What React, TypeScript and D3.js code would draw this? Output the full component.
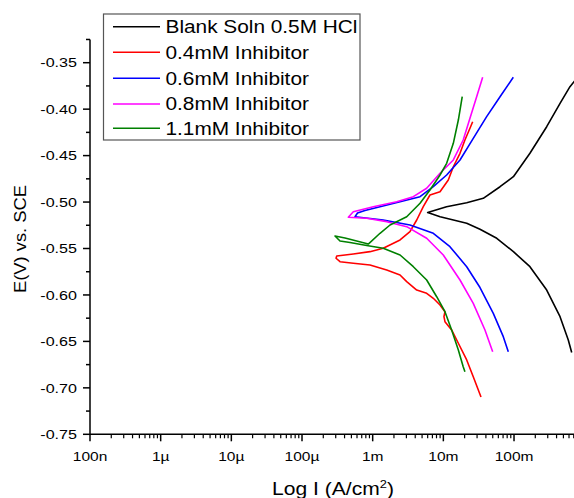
import React from "react";
import * as d3 from "d3";

// ---- data (current density A/cm², potential V vs SCE) ----
const seriesNames = [
  "Blank Soln 0.5M HCl",
  "0.4mM Inhibitor",
  "0.6mM Inhibitor",
  "0.8mM Inhibitor",
  "1.1mM Inhibitor",
];
const seriesColors = ["#000000", "#ff0000", "#0000ff", "#ff00ff", "#008000"];

const blankI = [0.655, 0.586, 0.448, 0.29, 0.168, 0.098, 0.057, 0.033, 0.0214, 0.009, 0.006, 0.0111, 0.0214, 0.0367, 0.0634, 0.098, 0.168, 0.29, 0.448, 0.619, 0.706, 0.79];
const blankE = [-0.662, -0.6485, -0.6234, -0.5947, -0.5696, -0.5534, -0.539, -0.5293, -0.5229, -0.5158, -0.5113, -0.505, -0.5007, -0.496, -0.4835, -0.4727, -0.4475, -0.4189, -0.3937, -0.3758, -0.3705, -0.366];

const inh04I = [0.0341, 0.0265, 0.0214, 0.0163, 0.0131, 0.01054, 0.0102, 0.01054, 0.00897, 0.00721, 0.00581, 0.0042, 0.00303, 0.00244, 0.00158, 0.000916, 0.000532, 0.000345, 0.000303, 0.00031, 0.000532, 0.000916, 0.00141, 0.00244, 0.00337, 0.0042, 0.0052, 0.00647, 0.00897, 0.01175, 0.01384, 0.0172, 0.0202, 0.0238, 0.026];
const inh04E = [-0.7099, -0.688, -0.67, -0.652, -0.6377, -0.6288, -0.6234, -0.618, -0.6108, -0.6036, -0.5982, -0.5947, -0.5857, -0.5785, -0.5731, -0.5678, -0.5659, -0.5642, -0.5605, -0.5581, -0.5559, -0.5534, -0.5498, -0.5408, -0.5319, -0.5193, -0.505, -0.4924, -0.4889, -0.4763, -0.462, -0.4475, -0.4332, -0.4206, -0.4135];

const inh06I = [0.083, 0.0705, 0.0509, 0.033, 0.0214, 0.0124, 0.00721, 0.00337, 0.00141, 0.000562, 0.00061, 0.000778, 0.00127, 0.00244, 0.00468, 0.00721, 0.01114, 0.0172, 0.0265, 0.041, 0.0634, 0.0977];
const inh06E = [-0.6611, -0.6449, -0.6198, -0.592, -0.5696, -0.548, -0.5336, -0.5247, -0.5193, -0.5158, -0.5118, -0.5091, -0.505, -0.4996, -0.4942, -0.4835, -0.4709, -0.4547, -0.4314, -0.4081, -0.3866, -0.3657];

const inh08I = [0.0499, 0.0388, 0.0265, 0.0172, 0.00998, 0.00581, 0.00303, 0.00158, 0.000822, 0.000452, 0.000532, 0.00102, 0.00219, 0.00376, 0.00581, 0.00897, 0.01384, 0.0191, 0.0238, 0.0296, 0.036];
const inh08E = [-0.6611, -0.6377, -0.609, -0.5839, -0.557, -0.539, -0.5265, -0.5211, -0.5175, -0.5164, -0.5104, -0.505, -0.4996, -0.4942, -0.4852, -0.469, -0.4547, -0.4332, -0.4098, -0.3866, -0.3657];

const inh11I = [0.0202, 0.0191, 0.0163, 0.0131, 0.01054, 0.00805, 0.00581, 0.00376, 0.00244, 0.00141, 0.000822, 0.000478, 0.000345, 0.000293, 0.000406, 0.000867, 0.00127, 0.00176, 0.00303, 0.00468, 0.00647, 0.00897, 0.01114, 0.01384, 0.0163, 0.0185];
const inh11E = [-0.6826, -0.6772, -0.6593, -0.6377, -0.618, -0.6019, -0.5839, -0.5696, -0.557, -0.5498, -0.5468, -0.5435, -0.5419, -0.5365, -0.5387, -0.5452, -0.5336, -0.5247, -0.5158, -0.5013, -0.487, -0.4709, -0.4583, -0.4368, -0.4117, -0.3866];

const xMajorTicks = [1e-7, 1e-6, 1e-5, 1e-4, 1e-3, 1e-2, 1e-1];
const xTickLabels = ["100n", "1µ", "10µ", "100µ", "1m", "10m", "100m"];
const yMajorTicks = [-0.35, -0.4, -0.45, -0.5, -0.55, -0.6, -0.65, -0.7, -0.75];

const W = 574;
const H = 498;
const FONT = "'Liberation Sans', Arial, sans-serif";

export default function App() {
  const x = d3.scaleLog().domain([1e-7, 1]).range([90, 90 + 7 * 70.67]);
  const y = d3.scaleLinear().domain([-0.75, -0.325]).range([434.3, 434.3 - 0.425 * 929]);
  const x0 = x.range()[0];
  const yBottom = y(-0.75);
  const yTop = y(-0.325);
  const xRight = x(1);

  const series = [
    { I: blankI, E: blankE },
    { I: inh04I, E: inh04E },
    { I: inh06I, E: inh06E },
    { I: inh08I, E: inh08E },
    { I: inh11I, E: inh11E },
  ];
  const line = d3
    .line<[number, number]>()
    .x((d) => x(d[0]))
    .y((d) => y(d[1]));

  const xMinor: number[] = [];
  for (let e = -7; e < 0; e++) {
    for (let k = 2; k <= 9; k++) xMinor.push(k * Math.pow(10, e));
  }
  const yMinor: number[] = [];
  for (let v = -0.725; v <= -0.32; v += 0.05) yMinor.push(v);

  const stretched = (tx: number, ty: number, content: React.ReactNode, size: number, anchor: string, sx: number) => (
    <text
      transform={`translate(${tx},${ty}) scale(${sx},1)`}
      fontSize={size}
      fontFamily={FONT}
      textAnchor={anchor}
      fill="#000"
    >
      {content}
    </text>
  );

  const legendRows = [26.7, 52.3, 78.3, 104, 128.3];

  return (
    <svg
      width={W}
      height={H}
      style={{ position: "absolute", left: 0, top: 0, background: "#fff" }}
    >
      <rect x={0} y={0} width={W} height={H} fill="#fff" />
      <defs>
        <clipPath id="plot">
          <rect x={x0} y={yTop - 5} width={W - x0} height={yBottom - yTop + 5} />
        </clipPath>
      </defs>

      {/* curves */}
      <g clipPath="url(#plot)">
        {series.map((s, i) => (
          <path
            key={i}
            d={line(s.I.map((v, j) => [v, s.E[j]] as [number, number])) || ""}
            fill="none"
            stroke={seriesColors[i]}
            strokeWidth={1.6}
            strokeLinejoin="round"
          />
        ))}
      </g>

      {/* y axis */}
      <line x1={x0} x2={x0} y1={yTop} y2={yBottom} stroke="#000" strokeWidth={1.5} />
      {yMajorTicks.map((v) => (
        <g key={v}>
          <line x1={x0 - 7} x2={x0} y1={y(v)} y2={y(v)} stroke="#000" strokeWidth={1.5} />
          {stretched(x0 - 13, y(v) + 4.7, v.toFixed(2), 13, "end", 1.24)}
        </g>
      ))}
      {yMinor.map((v) => (
        <line key={v} x1={x0 - 4} x2={x0} y1={y(v)} y2={y(v)} stroke="#000" strokeWidth={1.5} />
      ))}

      {/* x axis */}
      <line x1={x0} x2={xRight} y1={yBottom} y2={yBottom} stroke="#000" strokeWidth={1.5} />
      {xMajorTicks.map((v, i) => (
        <g key={v}>
          <line x1={x(v)} x2={x(v)} y1={yBottom} y2={yBottom + 7} stroke="#000" strokeWidth={1.5} />
          {stretched(x(v), 461, xTickLabels[i], 13.5, "middle", 1.15)}
        </g>
      ))}
      {xMinor.map((v) => (
        <line key={v} x1={x(v)} x2={x(v)} y1={yBottom} y2={yBottom + 4} stroke="#000" strokeWidth={1.2} />
      ))}

      {/* axis titles */}
      {stretched(
        333,
        495,
        <>
          Log I (A/cm
          <tspan fontSize={11} dy={-7}>2</tspan>
          <tspan dy={7}>)</tspan>
        </>,
        18,
        "middle",
        1.17
      )}
      <text
        transform={`translate(26,239) rotate(-90) scale(1.08,1)`}
        fontSize={17}
        fontFamily={FONT}
        textAnchor="middle"
        fill="#000"
      >
        E(V) vs. SCE
      </text>

      {/* legend */}
      <rect x={103.5} y={14} width={256.5} height={126} fill="#fff" stroke="#555" strokeWidth={1.2} />
      {seriesNames.map((n, i) => (
        <g key={n}>
          <line x1={113} x2={160} y1={legendRows[i]} y2={legendRows[i]} stroke={seriesColors[i]} strokeWidth={1.6} />
          {stretched(165.5, legendRows[i] + 6.3, n, 17.5, "start", 1.19)}
        </g>
      ))}
    </svg>
  );
}
